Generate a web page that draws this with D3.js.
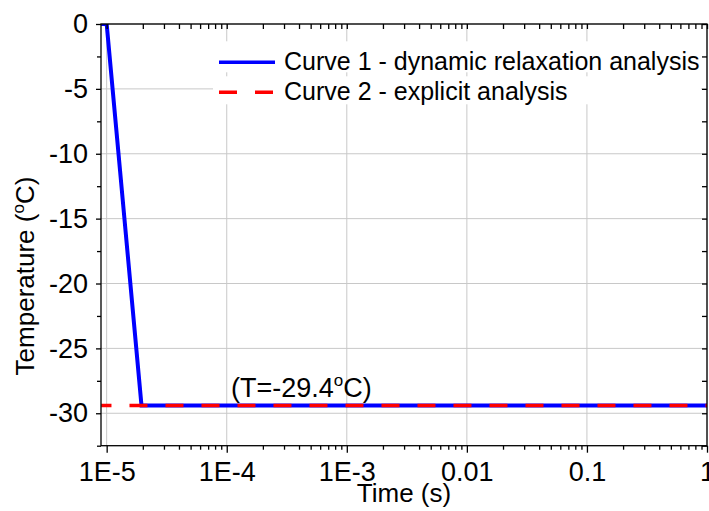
<!DOCTYPE html>
<html>
<head>
<meta charset="utf-8">
<script src="https://cdn.jsdelivr.net/npm/d3@7"></script>
<style>
  body { margin: 0; background: #fff; }
  text { font-family: Arial, "Liberation Sans", sans-serif; fill: #000; }
</style>
</head>
<body>
<div id="chart"></div>
<script>
// data
const curve1Time = [9e-6, 1e-5, 1.95e-5, 1];
const curve1Temp = [0, 0, -29.4, -29.4];
const curve2Time = [9e-6, 1];
const curve2Temp = [-29.4, -29.4];
const seriesNames = ["Curve 1 - dynamic relaxation analysis", "Curve 2 - explicit analysis"];
const seriesColors = ["#0000ff", "#ff0000"];
const xTicks = [1e-5, 1e-4, 1e-3, 0.01, 0.1, 1];
const xTickLabels = ["1E-5", "1E-4", "1E-3", "0.01", "0.1", "1"];
const yTicks = [0, -5, -10, -15, -20, -25, -30];
const yMinorTicks = [-2.5, -7.5, -12.5, -17.5, -22.5, -27.5, -32.5];
const annotationValue = -29.4;

const width = 709, height = 511;
const margin = { top: 24, right: 2, bottom: 65.3, left: 101 };

const svg = d3
  .select("#chart")
  .append("svg")
  .attr("width", width)
  .attr("height", height);

const x = d3
  .scaleLog()
  .domain([8.97e-6, 1])
  .range([margin.left, width - margin.right]);

const y = d3
  .scaleLinear()
  .domain([-32.5, 0])
  .range([height - margin.bottom, margin.top]);

// minor ticks for log axis: 2..9 of each decade
const xMinorTicks = [];
xTicks.slice(0, -1).forEach((d) => {
  for (let m = 2; m <= 9; m++) xMinorTicks.push(d * m);
});

svg
  .append("defs")
  .append("clipPath")
  .attr("id", "plot-clip")
  .append("rect")
  .attr("x", margin.left)
  .attr("y", margin.top)
  .attr("width", x.range()[1] - x.range()[0])
  .attr("height", y.range()[0] - y.range()[1]);

// grid
const grid = svg.append("g").attr("stroke", "#c8c8c8").attr("stroke-width", 1);
grid
  .selectAll("line.gx")
  .data(xTicks)
  .join("line")
  .attr("x1", (d) => x(d))
  .attr("x2", (d) => x(d))
  .attr("y1", y.range()[1])
  .attr("y2", y.range()[0]);
grid
  .selectAll("line.gy")
  .data(yTicks)
  .join("line")
  .attr("class", "gy")
  .attr("x1", x.range()[0])
  .attr("x2", x.range()[1])
  .attr("y1", (d) => y(d))
  .attr("y2", (d) => y(d));

// curves
const line = d3
  .line()
  .x((d) => x(d[0]))
  .y((d) => y(d[1]));

const plot = svg.append("g").attr("clip-path", "url(#plot-clip)");

plot
  .append("path")
  .datum(d3.zip(curve1Time, curve1Temp))
  .attr("fill", "none")
  .attr("stroke", seriesColors[0])
  .attr("stroke-width", 4)
  .attr("d", line);

plot
  .append("path")
  .datum(d3.zip(curve2Time, curve2Temp))
  .attr("fill", "none")
  .attr("stroke", seriesColors[1])
  .attr("stroke-width", 3.5)
  .attr("stroke-dasharray", "18,18")
  .attr("stroke-dashoffset", 7.7)
  .attr("d", line);

// axes
const fmt = (d, i) => xTickLabels[i];
function styleAxis(g) {
  g.select(".domain").remove();
  g.selectAll("line").attr("stroke", "#000").attr("stroke-width", 1.3);
  g.selectAll("text").attr("font-size", 27).attr("font-family", "Arial, 'Liberation Sans', sans-serif").attr("fill", "#000");
}

const yBase = y.range()[0];
const yTop = y.range()[1];
const xLeft = x.range()[0];
const xRight = x.range()[1];

svg
  .append("g")
  .attr("transform", `translate(0,${yBase})`)
  .call(d3.axisBottom(x).tickValues(xTicks).tickFormat(fmt).tickSizeInner(7).tickSizeOuter(0).tickPadding(9))
  .call(styleAxis);
svg
  .append("g")
  .attr("transform", `translate(0,${yBase})`)
  .call(d3.axisBottom(x).tickValues(xMinorTicks).tickFormat("").tickSizeInner(4).tickSizeOuter(0))
  .call(styleAxis);

svg
  .append("g")
  .attr("transform", `translate(0,${yTop})`)
  .call(d3.axisTop(x).tickValues(xTicks.concat(xMinorTicks)).tickFormat("").tickSizeInner(-5).tickSizeOuter(0))
  .call(styleAxis);

svg
  .append("g")
  .attr("transform", `translate(${xLeft},0)`)
  .call(d3.axisLeft(y).tickValues(yTicks).tickFormat((d) => String(d)).tickSizeInner(5).tickSizeOuter(0).tickPadding(8))
  .call(styleAxis);
svg
  .append("g")
  .attr("transform", `translate(${xLeft},0)`)
  .call(d3.axisLeft(y).tickValues(yMinorTicks).tickFormat("").tickSizeInner(4).tickSizeOuter(0))
  .call(styleAxis);

svg
  .append("g")
  .attr("transform", `translate(${xRight},0)`)
  .call(d3.axisRight(y).tickValues(yTicks.concat(yMinorTicks)).tickFormat("").tickSizeInner(-5).tickSizeOuter(0))
  .call(styleAxis);

// frame
svg
  .append("rect")
  .attr("x", xLeft)
  .attr("y", yTop)
  .attr("width", xRight - xLeft)
  .attr("height", yBase - yTop)
  .attr("fill", "none")
  .attr("stroke", "#000")
  .attr("stroke-width", 1.3);

// axis titles
svg
  .append("text")
  .attr("x", (xLeft + xRight) / 2)
  .attr("y", 502)
  .attr("text-anchor", "middle")
  .attr("font-size", 26)
  .text("Time (s)");

const yLabel = svg
  .append("text")
  .attr("transform", "rotate(-90)")
  .attr("x", -276)
  .attr("y", 33.5)
  .attr("text-anchor", "middle")
  .attr("font-size", 26);
yLabel.append("tspan").text("Temperature (");
yLabel.append("tspan").attr("font-size", 17).attr("dy", -10).text("o");
yLabel.append("tspan").attr("dy", 10).text("C)");

// annotation
const note = svg
  .append("text")
  .attr("x", 231)
  .attr("y", 396.5)
  .attr("font-size", 27);
note.append("tspan").text(`(T=${annotationValue}`);
note.append("tspan").attr("font-size", 17).attr("dy", -11).text("o");
note.append("tspan").attr("dy", 11).text("C)");

// legend
const legend = svg
  .append("g")
  .selectAll("g")
  .data(seriesNames)
  .join("g")
  .attr("transform", (d, i) => `translate(0,${62.3 + i * 30})`);

legend
  .append("rect")
  .attr("x", 213)
  .attr("y", (d, i) => (i === 0 ? -21 : -16))
  .attr("width", 488)
  .attr("height", (d, i) => (i === 0 ? 31 : 28))
  .attr("fill", "#fff");

legend
  .append("line")
  .attr("x1", 219)
  .attr("x2", 275)
  .attr("stroke", (d, i) => seriesColors[i])
  .attr("stroke-width", 3.5)
  .attr("stroke-dasharray", (d, i) => (i === 1 ? "18,18" : null));

legend
  .append("text")
  .attr("x", 284)
  .attr("y", 7.7)
  .attr("font-size", 25)
  .text((d) => d);
</script>
</body>
</html>
